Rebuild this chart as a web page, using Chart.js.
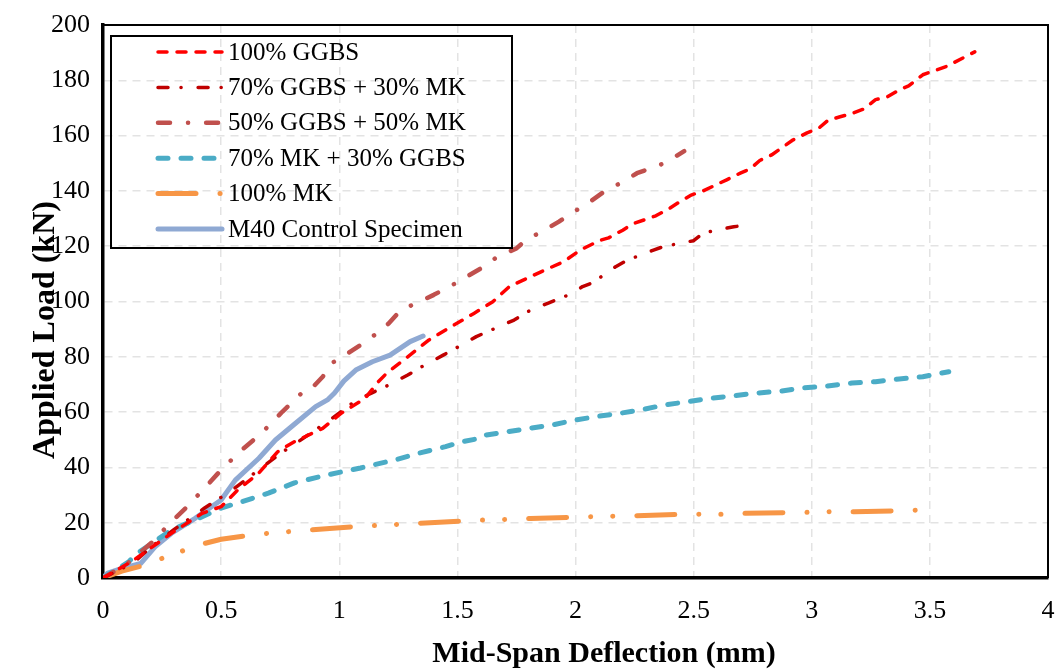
<!DOCTYPE html>
<html>
<head>
<meta charset="utf-8">
<title>Load vs Deflection</title>
<script src="https://cdn.jsdelivr.net/npm/chart.js@4/dist/chart.umd.min.js"></script>
<style>
  body { margin: 0; background: #fff; }
  #wrap { width: 1059px; height: 672px; position: relative; }
</style>
</head>
<body>
<div id="wrap"><canvas id="chart"></canvas></div>
<script>
// Tick settings
const xTicks = [0, 0.5, 1, 1.5, 2, 2.5, 3, 3.5, 4];
const yTicks = [0, 20, 40, 60, 80, 100, 120, 140, 160, 180, 200];

// Axis titles and series labels
const xTitle = 'Mid-Span Deflection (mm)';
const yTitle = 'Applied Load (kN)';
const seriesLabels = ['100% GGBS', '70% GGBS + 30% MK', '50% GGBS + 50% MK', '70% MK + 30% GGBS', '100% MK', 'M40 Control Specimen'];

// 100% GGBS
const ggbs100X = [0, 0.12, 0.19, 0.29, 0.42, 0.50, 0.57, 0.66, 0.74, 0.81, 0.93, 1.01, 1.11, 1.16, 1.20, 1.29, 1.38, 1.45, 1.57, 1.65, 1.72, 1.84, 1.95, 2.02, 2.10, 2.14, 2.20, 2.24, 2.29, 2.34, 2.40, 2.44, 2.49, 2.54, 2.59, 2.64, 2.70, 2.74, 2.78, 2.83, 2.88, 2.92, 2.98, 3.03, 3.07, 3.12, 3.17, 3.22, 3.27, 3.32, 3.37, 3.41, 3.47, 3.57, 3.69];
const ggbs100Y = [0, 5.9, 10.1, 16.2, 23.4, 25.8, 31.8, 38, 45.7, 49.3, 54.1, 59.7, 65, 70.5, 74, 80, 86.1, 89.7, 95.7, 99.9, 105.4, 110.2, 114.4, 118.6, 122, 123, 125.8, 128, 129.5, 131, 133.8, 136, 138.5, 140, 142, 144, 146.5, 148, 151, 153, 156, 158.4, 161, 162.7, 165.6, 166.8, 168, 169.6, 173, 174, 176.5, 178, 182, 185, 190.3];

// 70% GGBS + 30% MK
const ggbs70X = [0, 0.07, 0.135, 0.2, 0.3, 0.43, 0.55, 0.65, 0.75, 0.83, 0.91, 0.95, 1.05, 1.12, 1.21, 1.29, 1.355, 1.44, 1.51, 1.58, 1.66, 1.74, 1.81, 1.89, 1.98, 2.03, 2.07, 2.12, 2.17, 2.22, 2.27, 2.33, 2.37, 2.44, 2.50, 2.54, 2.60, 2.67, 2.70];
const ggbs70Y = [0, 3, 5.9, 11, 17.5, 25.3, 32, 38.5, 45, 49.5, 54.2, 56.5, 62.9, 66.2, 69.8, 73.4, 76.7, 80.6, 83.9, 87.3, 90.3, 93.3, 96.9, 99.6, 102.7, 105.4, 106.7, 109.6, 112.6, 115, 116.6, 118.6, 119.8, 121, 122, 124.7, 125.9, 127, 127.4];

// 50% GGBS + 50% MK
const ggbs50X = [0, 0.1, 0.21, 0.27, 0.35, 0.43, 0.50, 0.59, 0.67, 0.76, 0.84, 0.87, 0.93, 0.97, 1.02, 1.09, 1.16, 1.21, 1.26, 1.34, 1.40, 1.48, 1.54, 1.60, 1.67, 1.75, 1.79, 1.87, 1.93, 1.99, 2.06, 2.13, 2.19, 2.26, 2.34, 2.39, 2.46];
const ggbs50Y = [0, 5, 13.1, 18.6, 25.3, 32.5, 39.1, 46.5, 52.3, 60.2, 66.8, 67.4, 72.8, 77.8, 80.3, 84.3, 88.5, 92.1, 96.9, 99.9, 102.4, 106, 109, 112, 116.2, 119.2, 122.2, 125.9, 128.9, 132.3, 136, 140.3, 142.8, 146.4, 148.8, 150.6, 154.4];

// 70% MK + 30% GGBS
const mk70X = [0, 0.11, 0.135, 0.21, 0.29, 0.39, 0.50, 0.57, 0.70, 0.81, 0.95, 1.09, 1.24, 1.34, 1.45, 1.52, 1.60, 1.62, 1.71, 1.81, 1.90, 1.99, 2.09, 2.19, 2.29, 2.37, 2.47, 2.57, 2.67, 2.77, 2.87, 2.96, 3.06, 3.17, 3.27, 3.37, 3.47, 3.58];
const mk70Y = [0, 5.9, 8.3, 12.7, 17.4, 21, 25.3, 27.1, 30.7, 34.4, 37.3, 39.8, 42.8, 45.2, 47.5, 49.3, 50.6, 51.7, 52.9, 54.2, 55.3, 57, 58.4, 59.6, 61, 62.5, 63.7, 65, 65.9, 66.9, 67.6, 68.7, 69.4, 70.5, 71, 72, 72.8, 74.6];

// 100% MK
const mk100X = [0, 0.08, 0.18, 0.25, 0.34, 0.43, 0.50, 0.60, 0.70, 0.79, 0.88, 1.07, 1.25, 1.34, 1.52, 1.62, 1.71, 1.81, 1.98, 2.08, 2.17, 2.26, 2.44, 2.53, 2.63, 2.72, 2.91, 3.0, 3.09, 3.18, 3.37, 3.46];
const mk100Y = [0, 2.5, 4.7, 7.1, 9.9, 12.5, 14, 15.2, 16.2, 16.8, 17.4, 18.6, 19.4, 19.8, 20.6, 21, 21.2, 21.5, 21.9, 22.2, 22.4, 22.5, 23, 23.1, 23.1, 23.4, 23.6, 23.8, 24, 24, 24.3, 24.6];

// M40 Control Specimen
const m40X = [0, 0.02, 0.08, 0.16, 0.22, 0.29, 0.39, 0.50, 0.56, 0.66, 0.73, 0.81, 0.90, 0.95, 0.98, 1.02, 1.07, 1.14, 1.215, 1.30, 1.355];
const m40Y = [0, 1.8, 3.5, 5.3, 11.3, 16.2, 21.6, 28.2, 35.4, 43.3, 49.9, 55.6, 62, 64.4, 66.9, 71.3, 75.2, 78.2, 80.6, 85.5, 87.5];

function toPoints(xs, ys) {
    return xs.map((x, i) => ({ x: x, y: ys[i] }));
}

const serif = "'Liberation Serif', 'Times New Roman', serif";

// Top/right frame, axis titles and the boxed legend inside the plot
const frameAndLegend = {
    id: 'frameAndLegend',
    afterDraw(chart) {
        const ctx = chart.ctx;
        const a = chart.chartArea;
        ctx.save();
        ctx.strokeStyle = '#000';
        ctx.lineWidth = 2;
        ctx.beginPath();
        ctx.moveTo(a.left, a.top);
        ctx.lineTo(a.right, a.top);
        ctx.lineTo(a.right, a.bottom);
        ctx.stroke();

        // axis titles
        ctx.fillStyle = '#000';
        ctx.textAlign = 'center';
        ctx.textBaseline = 'middle';
        ctx.font = 'bold 30px ' + serif;
        ctx.fillText(xTitle, 604, 654);
        ctx.save();
        ctx.translate(46, 330);
        ctx.rotate(-Math.PI / 2);
        ctx.font = 'bold 32px ' + serif;
        ctx.fillText(yTitle, 0, 0);
        ctx.restore();

        // legend box
        ctx.lineWidth = 2;
        ctx.strokeRect(111, 36, 401, 212);
        ctx.font = '25px ' + serif;
        ctx.textAlign = 'left';
        chart.data.datasets.forEach((ds, i) => {
            const y = 52 + i * 35.4;
            ctx.save();
            ctx.strokeStyle = ds.borderColor;
            ctx.lineWidth = ds.borderWidth;
            ctx.lineCap = 'round';
            ctx.setLineDash(ds.borderDash || []);
            ctx.beginPath();
            ctx.moveTo(158, y);
            ctx.lineTo(222, y);
            ctx.stroke();
            ctx.restore();
            ctx.fillText(ds.label, 228, y + 1);
        });
        ctx.restore();
    }
};

const ctx = document.getElementById('chart');
new Chart(ctx, {
    type: 'line',
    data: {
        datasets: [
            { label: seriesLabels[0], data: toPoints(ggbs100X, ggbs100Y), borderColor: '#FF0000', borderWidth: 3.5, borderDash: [9, 10] },
            { label: seriesLabels[1], data: toPoints(ggbs70X, ggbs70Y), borderColor: '#C00000', borderWidth: 3.5, borderDash: [10, 13, 0.1, 17] },
            { label: seriesLabels[2], data: toPoints(ggbs50X, ggbs50Y), borderColor: '#C0504D', borderWidth: 4.5, borderDash: [12, 18, 0.1, 18] },
            { label: seriesLabels[3], data: toPoints(mk70X, mk70Y), borderColor: '#4BACC6', borderWidth: 5, borderDash: [10, 13] },
            { label: seriesLabels[4], data: toPoints(mk100X, mk100Y), borderColor: '#F79646', borderWidth: 5, borderDash: [38, 24, 0.1, 22, 0.1, 24] },
            { label: seriesLabels[5], data: toPoints(m40X, m40Y), borderColor: '#8FA9D3', borderWidth: 5 }
        ]
    },
    options: {
        responsive: true,
        maintainAspectRatio: false,
        animation: false,
        layout: { padding: { top: 25, right: 11, bottom: 0, left: 0 } },
        elements: {
            point: { radius: 0 },
            line: { tension: 0, borderCapStyle: 'round', borderJoinStyle: 'round', fill: false }
        },
        plugins: {
            legend: { display: false },
            tooltip: { enabled: false }
        },
        scales: {
            x: {
                type: 'linear',
                min: 0,
                max: 4,
                afterFit: scale => {
                    scale.height = 94;
                    scale.paddingLeft = 0;
                    scale.paddingRight = 0;
                },
                afterBuildTicks: scale => { scale.ticks = xTicks.map(v => ({ value: v })); },
                ticks: {
                    padding: 18,
                    color: '#000',
                    font: { family: serif, size: 26 },
                    callback: v => String(v)
                },
                grid: { color: '#E3E3E3', lineWidth: 1.5, drawTicks: false },
                border: { color: '#000', width: 3.5, dash: [8, 6] }
            },
            y: {
                type: 'linear',
                min: 0,
                max: 200,
                afterFit: scale => {
                    scale.width = 103;
                    scale.paddingTop = 0;
                    scale.paddingBottom = 0;
                },
                afterBuildTicks: scale => { scale.ticks = yTicks.map(v => ({ value: v })); },
                ticks: {
                    padding: 13,
                    color: '#000',
                    font: { family: serif, size: 26 }
                },
                grid: { color: '#E3E3E3', lineWidth: 1.5, drawTicks: false },
                border: { color: '#000', width: 3.5, dash: [8, 6] }
            }
        }
    },
    plugins: [frameAndLegend]
});
</script>
</body>
</html>
